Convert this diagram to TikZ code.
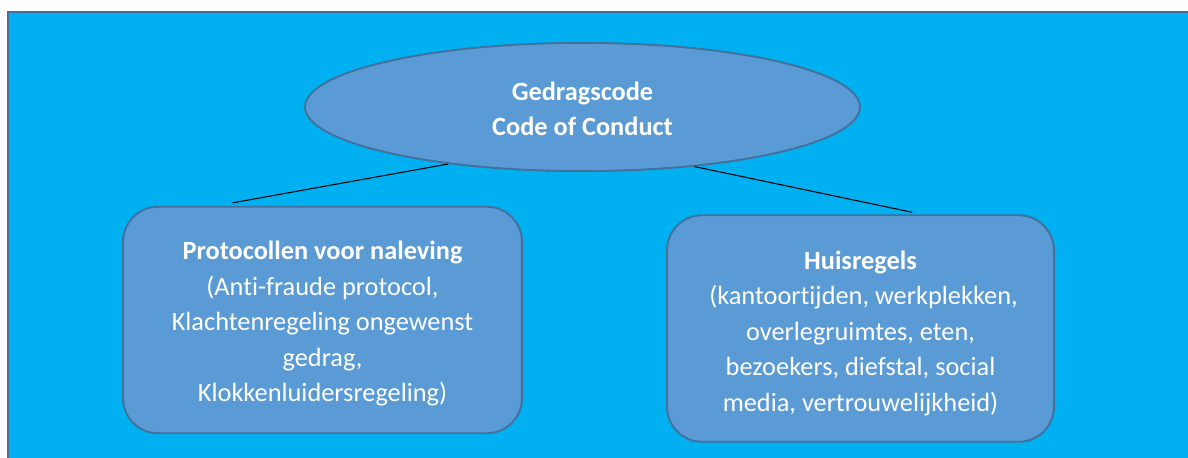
\documentclass[tikz,border=0pt]{standalone}
\usepackage{fontspec}
\setmainfont{Carlito}[Ligatures={NoCommon}]
\usepackage{xcolor}
\usetikzlibrary{positioning, calc, shapes.geometric}
\definecolor{achtergrond}{HTML}{00B0F0}
\definecolor{vulling}{HTML}{5B9BD5}
\definecolor{rand}{HTML}{41719C}
\definecolor{kader}{HTML}{4A6C98}
\tikzset{
    tekst/.style={text=white, font=\fontsize{15}{20.2}\selectfont}, % witte tekst in de vormen
    ovaal/.style={ellipse, draw=rand, fill=vulling, line width=1.1pt, tekst,
                  minimum width=11.1cm, minimum height=2.56cm},
    blok/.style={rectangle, rounded corners=0.7cm, draw=rand, fill=vulling,
                 line width=1.1pt, tekst, minimum height=4.53cm},
    lijn/.style={draw=black, line width=0.6pt},
}

\begin{document}
\begin{tikzpicture}[x=0.02cm, y=-0.02cm]
        \useasboundingbox (0,0) rectangle (1188,457);
        % Achtergrondkader
        \draw[kader, fill=achtergrond, line width=1.6pt] (8,12) rectangle (1215,480);

        % Ellips (Gedragscode)
        \node[ovaal] (code) at (582.5,107) {\bfseries\begin{tabular}{c}
                         \noalign{\vskip 0.16cm}
                         Gedragscode \\
                         Code of Conduct
                         \end{tabular}};

        % Linker blok (Protocollen voor naleving)
        \node[blok, minimum width=7.98cm] (protocol) at (322.5,320) {\begin{tabular}{c}
                         \noalign{\vskip 0.14cm}
                         \textbf{Protocollen voor naleving} \\
                         (Anti-fraude protocol, \\
                         Klachtenregeling ongewenst \\
                         gedrag, \\
                         Klokkenluidersregeling)
                         \end{tabular}};

        % Rechter blok (Huisregels)
        \node[blok, minimum width=7.74cm] (huisregels) at (860.5,328.5) {\begin{tabular}{c}
                         \noalign{\vskip 0.18cm}
                         \textbf{Huisregels} \\
                         \ (kantoortijden, werkplekken, \\
                         overlegruimtes, eten, \\
                         bezoekers, diefstal, social \\
                         media, vertrouwelijkheid)
                         \end{tabular}};

        % Lijnen tussen ellips en blokken
        \draw[lijn] (code.203.5) -- ($(protocol.north west)!0.276!(protocol.north east)+(0,-3)$);
        \draw[lijn] (code.332) -- ($(huisregels.north west)!0.633!(huisregels.north east)+(0,-2)$);
    \end{tikzpicture}
\end{document}
